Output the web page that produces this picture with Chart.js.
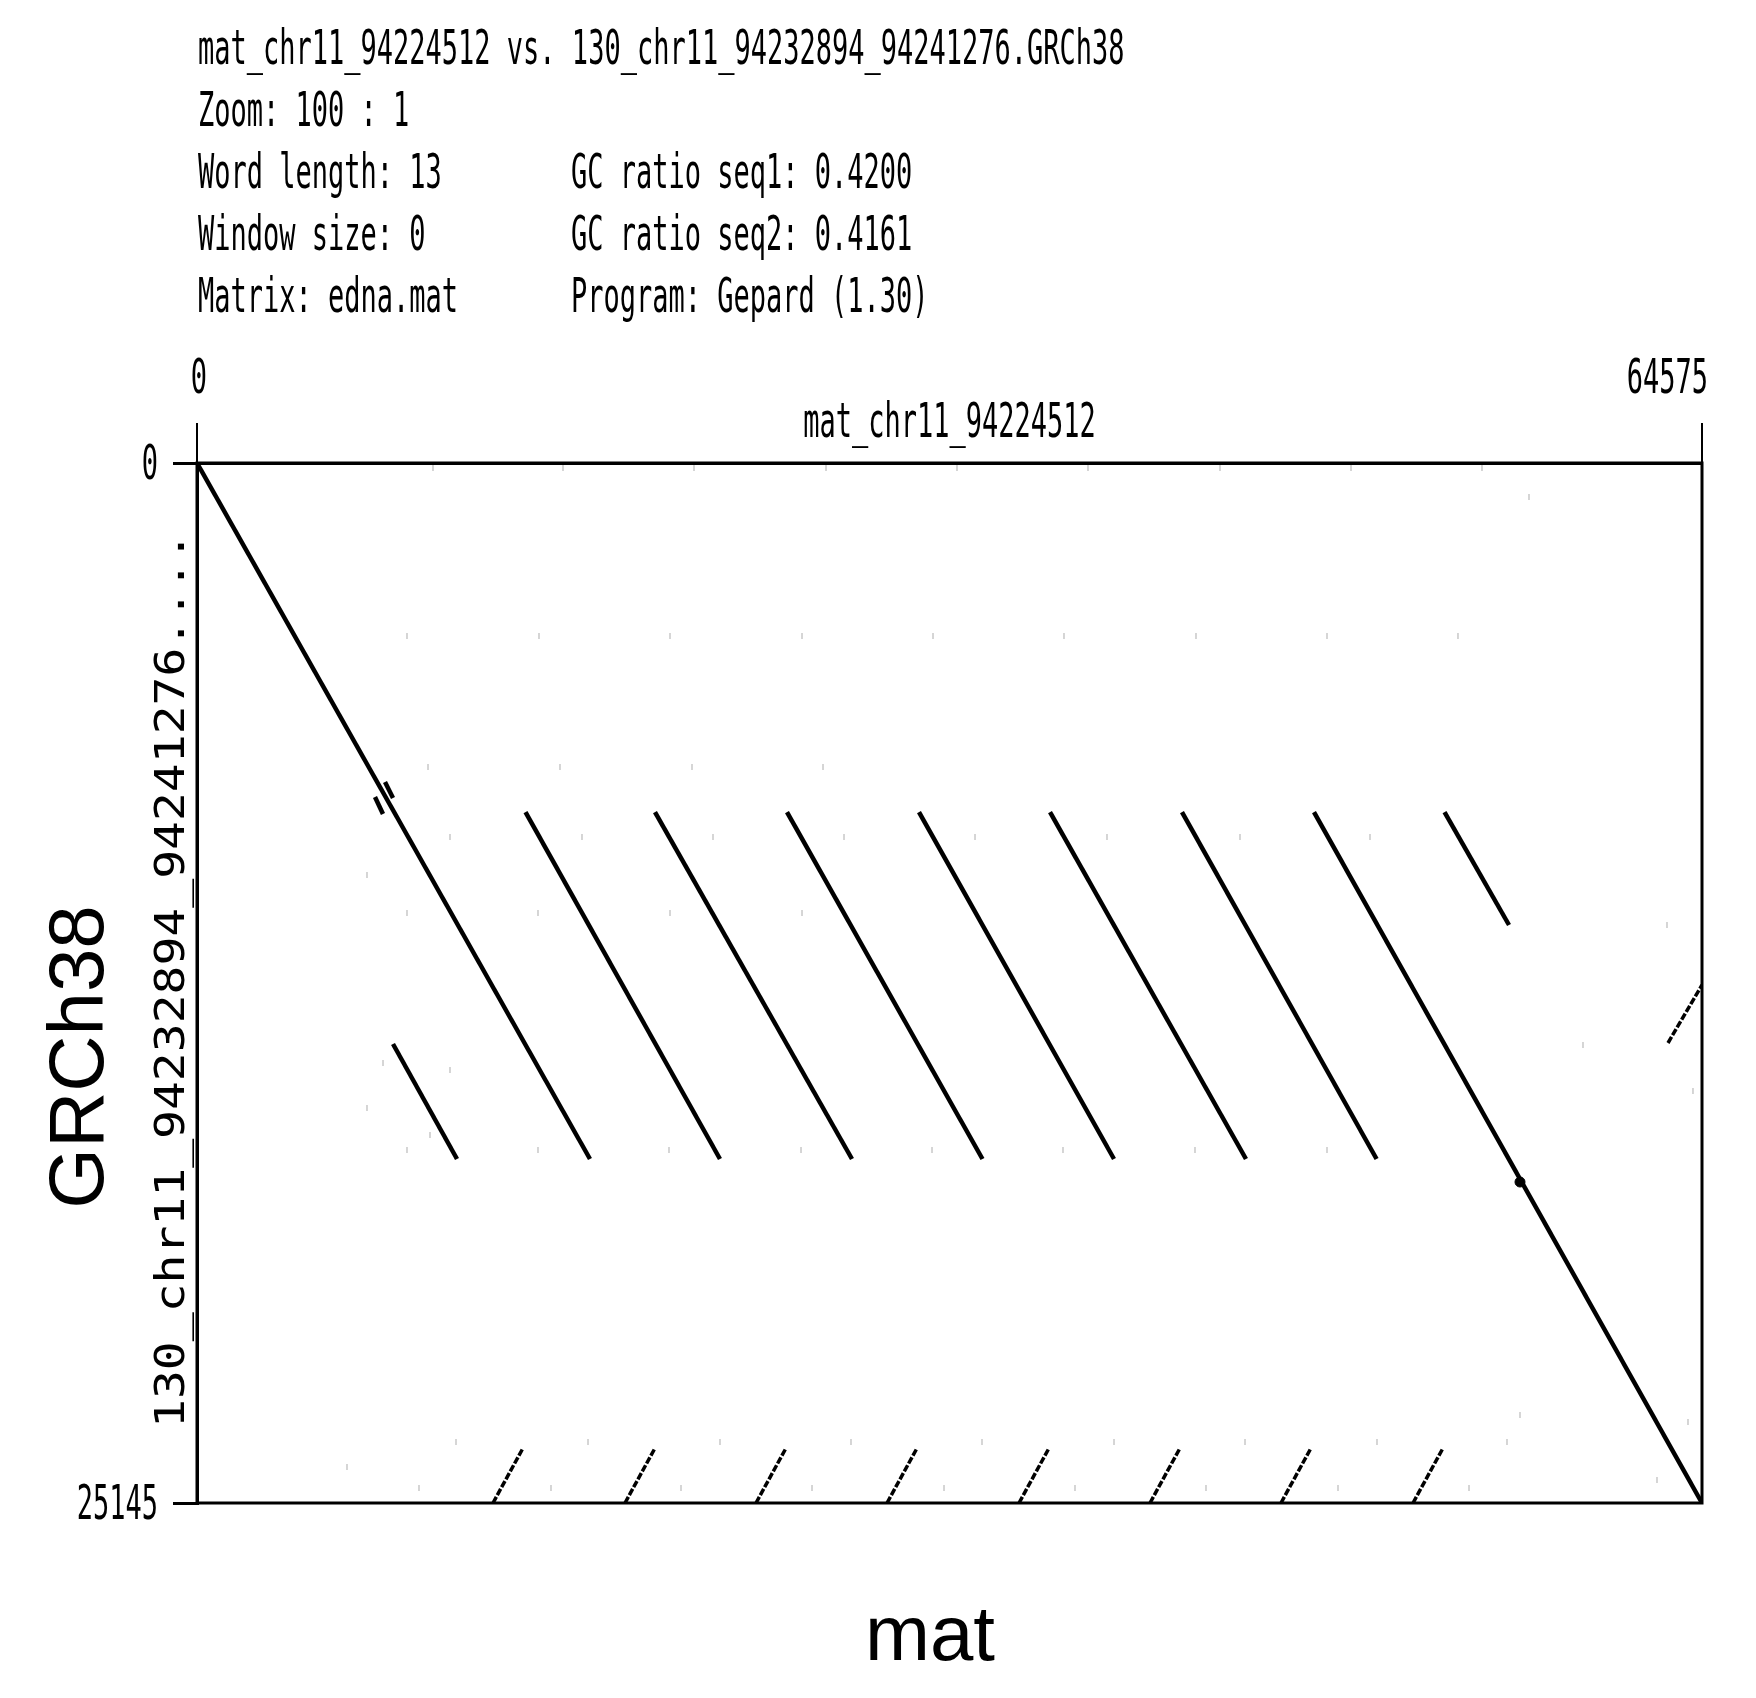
<!DOCTYPE html>
<html>
<head>
<meta charset="utf-8">
<title>Gepard dot plot</title>
<script src="https://cdn.jsdelivr.net/npm/chart.js@4.4.1/dist/chart.umd.min.js"></script>
<style>
  html, body { margin: 0; padding: 0; background: #fff; }
  #wrap { position: relative; width: 1756px; height: 1698px; }
</style>
</head>
<body>
<div id="wrap"><canvas id="dotplot"></canvas></div>
<script>
// sequence names and lengths
const seq1Name = 'mat_chr11_94224512';
const seq2Name = '130_chr11_94232894_94241276....';
const xTicks = [0, 64575];
const yTicks = [0, 25145];

// header block (left column / right column)
const headerLeft = [
  'mat_chr11_94224512 vs. 130_chr11_94232894_94241276.GRCh38',
  'Zoom: 100 : 1',
  'Word length: 13',
  'Window size: 0',
  'Matrix: edna.mat'
];
const headerRight = ['', '', 'GC ratio seq1: 0.4200', 'GC ratio seq2: 0.4161', 'Program: Gepard (1.30)'];

// forward matches: start (x0,y0) -> end (x1,y1), x = seq1 position, y = seq2 position
const fwdX0 = [0, 8410, 14095, 19651, 25315, 30979, 36600, 42263, 47927, 53527];
const fwdY0 = [0, 14047, 8440, 8440, 8440, 8440, 8440, 8440, 8440, 8440];
const fwdX1 = [16862, 11156, 22440, 28104, 33703, 39346, 45009, 50613, 64575, 56294];
const fwdY1 = [16828, 16828, 16828, 16828, 16828, 16828, 16828, 16828, 25145, 11170];

// tiny hits crossing the main diagonal
const tinyX0 = [8067, 7637];
const tinyY0 = [7713, 8076];
const tinyX1 = [8410, 7980];
const tinyY1 = [8100, 8487];

// reverse complement matches
const revX0 = [12700, 18364, 23985, 29607, 35270, 40890, 46510, 52175, 63116];
const revY0 = [25145, 25145, 25145, 25145, 25145, 25145, 25145, 25145, 14023];
const revX1 = [13990, 19654, 25275, 30897, 36560, 42180, 47800, 53465, 64575];
const revY1 = [23815, 23815, 23815, 23815, 23815, 23815, 23815, 23815, 12621];

// small dark blob on the long diagonal
const blobX = [56766];
const blobY = [17384];

// faint background hits
const noiseX = [
  10126, 15704, 21325, 26989, 32609, 38230, 43894, 49515, 55135,
  9010, 14674, 20295, 25959, 31580, 37200, 42864, 48485, 54105,
  9912, 15575, 21239, 26860,
  10855, 16519, 22140, 27761, 33382, 39045, 44752, 50330,
  7294,
  9010, 14631, 20295, 25959,
  7981, 10855, 7294, 9997,
  9010, 14631, 20252, 25916, 31537, 37157, 42821, 48485,
  11113, 16777, 22440, 28061, 33682, 39346, 44967, 50630, 56208,
  9525, 15189, 20767, 26388, 32052, 37672, 43293, 48957, 54578,
  6436, 56766, 62644, 63974, 63073, 59469, 64188, 57152
];
const noiseY = [
  121, 121, 121, 121, 121, 121, 121, 121, 121,
  4183, 4183, 4183, 4183, 4183, 4183, 4183, 4183, 4183,
  7350, 7350, 7350, 7350,
  9043, 9043, 9043, 9043, 9043, 9043, 9043, 9043,
  9961,
  10880, 10880, 10880, 10880,
  14507, 14676, 15595, 16248,
  16610, 16610, 16610, 16610, 16610, 16610, 16610, 16610,
  23670, 23670, 23670, 23670, 23670, 23670, 23670, 23670, 23670,
  24782, 24782, 24782, 24782, 24782, 24782, 24782, 24782, 24782,
  24275, 23017, 24589, 23187, 11170, 14072, 15184, 822
];

const pixelFont = '27px "DejaVu Sans Mono"';
const pixelStretch = 1.75;

function segment(x0, y0, x1, y1, width, dash) {
  return {
    data: [{ x: x0, y: y0 }, { x: x1, y: y1 }],
    showLine: true,
    borderColor: '#000',
    borderWidth: width,
    borderDash: dash || [],
    pointRadius: 0,
    borderCapStyle: 'butt'
  };
}

const datasets = [];
datasets.push({
  data: noiseX.map((x, i) => ({ x: x, y: noiseY[i] })),
  pointStyle: 'line',
  rotation: 90,
  pointRadius: 3,
  borderWidth: 1.5,
  borderColor: '#c8c8c8',
  backgroundColor: '#c8c8c8'
});
fwdX0.forEach((x, i) => datasets.push(segment(x, fwdY0[i], fwdX1[i], fwdY1[i], 4.5)));
tinyX0.forEach((x, i) => datasets.push(segment(x, tinyY0[i], tinyX1[i], tinyY1[i], 4.5)));
revX0.forEach((x, i) => datasets.push(segment(x, revY0[i], revX1[i], revY1[i], 3.5, [7, 2])));
datasets.push({
  data: blobX.map((x, i) => ({ x: x, y: blobY[i] })),
  pointRadius: 5,
  backgroundColor: '#000',
  borderColor: '#000'
});

function drawText(ctx, text, x, y, font, sx, sy, align, angle) {
  ctx.save();
  ctx.translate(x, y);
  if (angle) ctx.rotate(angle);
  ctx.scale(sx, sy);
  ctx.font = font;
  ctx.textAlign = align;
  ctx.textBaseline = 'alphabetic';
  ctx.fillStyle = '#000';
  ctx.fillText(text, 0, 0);
  ctx.restore();
}

// frame, header and labels
const gepardDecor = {
  id: 'gepardDecor',
  afterDatasetsDraw(chart) {
    const ctx = chart.ctx;
    const a = chart.chartArea;
    ctx.save();
    ctx.strokeStyle = '#000';
    ctx.lineWidth = 3;
    ctx.strokeRect(a.left, a.top, a.right - a.left, a.bottom - a.top);
    ctx.restore();
  },
  afterDraw(chart) {
    const ctx = chart.ctx;
    const xs = chart.scales.x;
    const ys = chart.scales.y;

    headerLeft.forEach((t, i) => drawText(ctx, t, 198, 64 + i * 62, pixelFont, 1, pixelStretch, 'left'));
    headerRight.forEach((t, i) => { if (t) drawText(ctx, t, 571, 64 + i * 62, pixelFont, 1, pixelStretch, 'left'); });

    // top axis tick labels
    xTicks.forEach((v, i) => {
      const px = xs.getPixelForValue(v);
      if (i === xTicks.length - 1) drawText(ctx, String(v), px + 6, 393, pixelFont, 1, pixelStretch, 'right');
      else drawText(ctx, String(v), px + 2, 393, pixelFont, 1, pixelStretch, 'center');
    });
    drawText(ctx, seq1Name, (xs.left + xs.right) / 2, 437, pixelFont, 1, pixelStretch, 'center');

    // left axis tick labels
    yTicks.forEach(v => {
      const py = ys.getPixelForValue(v);
      drawText(ctx, String(v), 158, py + 16, pixelFont, 1, pixelStretch, 'right');
    });
    drawText(ctx, seq2Name, 184, 980, '40px "DejaVu Sans Mono"', 1.2, 1, 'center', -Math.PI / 2);

    // big axis names
    drawText(ctx, 'GRCh38', 103, 1057, '78px "Liberation Sans"', 1, 1, 'center', -Math.PI / 2);
    drawText(ctx, 'mat', 930, 1660, '78px "Liberation Sans"', 1, 1, 'center');
  }
};

const ctx = document.getElementById('dotplot').getContext('2d');
const dotChart = new Chart(ctx, {
  type: 'scatter',
  data: { datasets: datasets },
  plugins: [gepardDecor],
  options: {
    responsive: true,
    maintainAspectRatio: false,
    animation: false,
    layout: { padding: { top: 423, left: 173, right: 54, bottom: 195 } },
    plugins: { legend: { display: false }, tooltip: { enabled: false } },
    scales: {
      x: {
        type: 'linear',
        position: 'top',
        min: xTicks[0],
        max: xTicks[xTicks.length - 1],
        afterBuildTicks: scale => { scale.ticks = xTicks.map(v => ({ value: v })); },
        afterFit: scale => { scale.height = 40; },
        ticks: { display: false },
        grid: { drawOnChartArea: false, drawTicks: true, tickLength: 40, color: '#000', lineWidth: 2 },
        border: { display: true, color: '#000', width: 3 }
      },
      y: {
        type: 'linear',
        position: 'left',
        reverse: true,
        min: yTicks[0],
        max: yTicks[yTicks.length - 1],
        afterBuildTicks: scale => { scale.ticks = yTicks.map(v => ({ value: v })); },
        afterFit: scale => { scale.width = 24; },
        ticks: { display: false },
        grid: { drawOnChartArea: false, drawTicks: true, tickLength: 24, color: '#000', lineWidth: 3 },
        border: { display: true, color: '#000', width: 3 }
      }
    }
  }
});
</script>
</body>
</html>
